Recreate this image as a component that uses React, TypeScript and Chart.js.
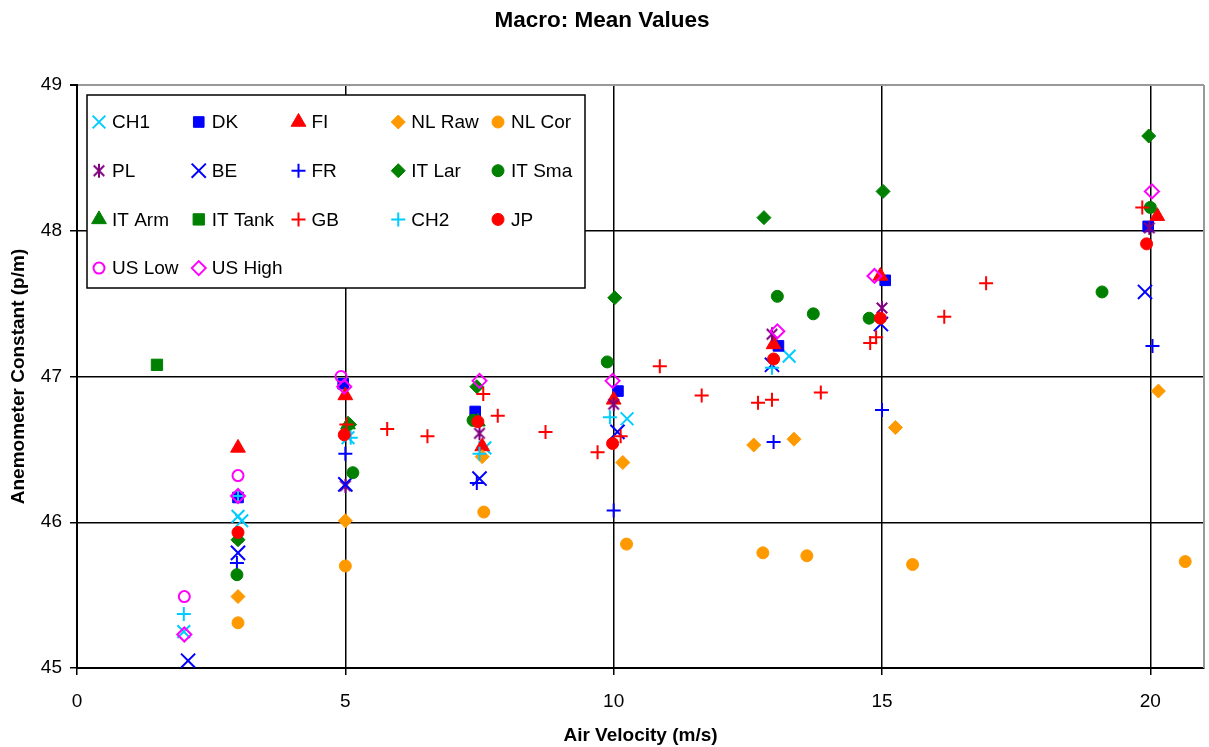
import React, { useEffect, useRef } from 'react';
import { Chart, registerables } from 'chart.js';
import { drawPoint } from 'chart.js/helpers';

Chart.register(...registerables);

// ---------- data ----------
const TITLE = 'Macro: Mean Values';
const X_TITLE = 'Air Velocity (m/s)';
const Y_TITLE = 'Anemometer Constant (p/m)';
const X_TICKS = [0, 5, 10, 15, 20];
const Y_TICKS = [45, 46, 47, 48, 49];

const SERIES_NAMES = [
  'CH1', 'DK', 'FI', 'NL Raw', 'NL Cor',
  'PL', 'BE', 'FR', 'IT Lar', 'IT Sma',
  'IT Arm', 'IT Tank', 'GB', 'CH2', 'JP',
  'US Low', 'US High',
];

type P = [number, number];
const CH1: P[] = [[1.99, 45.25], [3.0, 46.04], [3.07, 46.01], [5.05, 46.58], [7.6, 46.51], [10.25, 46.71], [13.27, 47.14]];
const DK: P[] = [[3.0, 46.17], [4.96, 46.95], [7.42, 46.76], [10.08, 46.9], [13.07, 47.21], [15.06, 47.66], [19.96, 48.03]];
const FI: P[] = [[3.0, 46.51], [5.0, 46.87], [7.55, 46.52], [10.0, 46.84], [12.98, 47.22], [14.97, 47.69], [20.13, 48.1]];
const NL_RAW: P[] = [[3.0, 45.49], [5.0, 46.01], [7.55, 46.45], [10.17, 46.41], [12.61, 46.53], [13.36, 46.57], [15.25, 46.65], [20.15, 46.9]];
const NL_COR: P[] = [[3.0, 45.31], [5.0, 45.7], [7.58, 46.07], [10.24, 45.85], [12.78, 45.79], [13.6, 45.77], [15.57, 45.71], [20.65, 45.73]];
const PL: P[] = [[3.0, 45.9], [5.0, 46.25], [7.5, 46.61], [10.0, 46.81], [12.95, 47.29], [15.0, 47.47], [19.98, 48.02]];
const BE: P[] = [[2.07, 45.05], [3.0, 45.79], [5.0, 46.26], [7.5, 46.3], [10.07, 46.62], [12.95, 47.08], [14.98, 47.36], [19.9, 47.58]];
const FR: P[] = [[2.98, 45.72], [5.0, 46.47], [7.45, 46.27], [10.0, 46.08], [12.98, 46.55], [15.0, 46.77], [20.04, 47.21]];
const IT_LAR: P[] = [[3.0, 45.88], [5.08, 46.67], [7.45, 46.93], [10.02, 47.54], [12.8, 48.09], [15.02, 48.27], [19.97, 48.65]];
const IT_SMA: P[] = [[2.98, 45.64], [5.14, 46.34], [7.38, 46.7], [9.88, 47.1], [13.05, 47.55], [13.72, 47.43], [14.76, 47.4], [19.1, 47.58], [20.0, 48.16]];
const IT_ARM: P[] = [[5.05, 46.67], [7.47, 46.69]];
const IT_TANK: P[] = [[1.49, 47.08]];
const GB: P[] = [[5.02, 46.67], [5.78, 46.64], [6.53, 46.59], [7.57, 46.88], [7.84, 46.73], [8.73, 46.62], [9.7, 46.48], [10.13, 46.59], [10.86, 47.07], [11.64, 46.87], [12.69, 46.82], [12.95, 46.84], [13.86, 46.89], [14.78, 47.23], [14.89, 47.27], [16.16, 47.41], [16.94, 47.64], [19.85, 48.16]];
const CH2: P[] = [[1.99, 45.37], [3.0, 46.18], [5.1, 46.58], [7.5, 46.47], [9.93, 46.72], [12.95, 47.06]];
const JP: P[] = [[3.0, 45.93], [4.98, 46.6], [7.47, 46.69], [9.98, 46.54], [12.98, 47.12], [14.97, 47.4], [19.93, 47.91]];
const US_LOW: P[] = [[2.0, 45.49], [3.0, 46.32], [4.92, 47.0]];
const US_HIGH: P[] = [[2.0, 45.23], [3.0, 46.18], [4.98, 46.93], [7.5, 46.97], [9.98, 46.97], [13.05, 47.31], [14.86, 47.69], [20.03, 48.27]];

const SERIES_DATA: P[][] = [
  CH1, DK, FI, NL_RAW, NL_COR,
  PL, BE, FR, IT_LAR, IT_SMA,
  IT_ARM, IT_TANK, GB, CH2, JP,
  US_LOW, US_HIGH,
];

// ---------- styles ----------
const CYAN = '#00CCFF';
const BLUE = '#0000FF';
const RED = '#FF0000';
const ORANGE = '#FF9900';
const PURPLE = '#800080';
const GREEN = '#008000';
const MAGENTA = '#FF00FF';
const FONT = '"Liberation Sans", Arial, Helvetica, sans-serif';

type Style = { style: any; r: number; color: string; fill: string; bw: number };

function makeAsterisk(color: string, r: number) {
  const s = Math.ceil(r * 2 + 4);
  const c = document.createElement('canvas');
  c.width = s;
  c.height = s;
  const g = c.getContext('2d')!;
  g.strokeStyle = color;
  g.lineWidth = 2;
  const m = s / 2;
  const d = r * 0.75;
  g.beginPath();
  g.moveTo(m - d, m - d); g.lineTo(m + d, m + d);
  g.moveTo(m + d, m - d); g.lineTo(m - d, m + d);
  g.moveTo(m, m - r); g.lineTo(m, m + r);
  g.stroke();
  return c;
}

function buildStyles(): Style[] {
  const none = 'rgba(0,0,0,0)';
  return [
    { style: 'crossRot', r: 9, color: CYAN, fill: CYAN, bw: 2 },
    { style: 'rect', r: 7.5, color: BLUE, fill: BLUE, bw: 1 },
    { style: 'triangle', r: 8.5, color: RED, fill: RED, bw: 1 },
    { style: 'rectRot', r: 7, color: ORANGE, fill: ORANGE, bw: 1 },
    { style: 'circle', r: 6, color: ORANGE, fill: ORANGE, bw: 1 },
    { style: makeAsterisk(PURPLE, 7), r: 7, color: PURPLE, fill: PURPLE, bw: 2 },
    { style: 'crossRot', r: 10, color: BLUE, fill: BLUE, bw: 2 },
    { style: 'cross', r: 7, color: BLUE, fill: BLUE, bw: 2 },
    { style: 'rectRot', r: 7, color: GREEN, fill: GREEN, bw: 1 },
    { style: 'circle', r: 6, color: GREEN, fill: GREEN, bw: 1 },
    { style: 'triangle', r: 8.5, color: GREEN, fill: GREEN, bw: 1 },
    { style: 'rect', r: 8, color: GREEN, fill: GREEN, bw: 1 },
    { style: 'cross', r: 7, color: RED, fill: RED, bw: 2 },
    { style: 'cross', r: 7, color: CYAN, fill: CYAN, bw: 2 },
    { style: 'circle', r: 6, color: RED, fill: RED, bw: 1 },
    { style: 'circle', r: 5.5, color: MAGENTA, fill: none, bw: 2 },
    { style: 'rectRot', r: 7, color: MAGENTA, fill: none, bw: 2 },
  ];
}

const boxLegend = {
  id: 'boxLegend',
  afterDatasetsDraw(chart: any) {
    const { ctx, chartArea } = chart;
    const left = chartArea.left + 10;
    const top = chartArea.top + 10;
    const w = 498;
    const h = 193;
    ctx.save();
    ctx.fillStyle = '#ffffff';
    ctx.fillRect(left, top, w, h);
    ctx.lineWidth = 1.5;
    ctx.strokeStyle = '#000000';
    ctx.strokeRect(left, top, w, h);
    chart.data.datasets.forEach((ds: any, i: number) => {
      const col = i % 5;
      const row = Math.floor(i / 5);
      const mx = left + 12 + col * 99.75;
      const my = top + 27 + row * 48.7;
      ctx.fillStyle = ds.backgroundColor;
      ctx.strokeStyle = ds.borderColor;
      ctx.lineWidth = ds.pointBorderWidth;
      drawPoint(ctx, { pointStyle: ds.pointStyle, radius: ds.pointRadius, rotation: 0, borderWidth: ds.pointBorderWidth } as any, mx, my);
      ctx.fillStyle = '#000000';
      ctx.font = `19px ${FONT}`;
      ctx.textBaseline = 'middle';
      ctx.textAlign = 'left';
      ctx.fillText(ds.label, mx + 13, my + 1);
    });
    // right border of plot area
    ctx.strokeStyle = '#999999';
    ctx.lineWidth = 2;
    ctx.beginPath();
    ctx.moveTo(chartArea.right, chartArea.top);
    ctx.lineTo(chartArea.right, chartArea.bottom);
    ctx.stroke();
    ctx.restore();
  },
};

export default function App() {
  const ref = useRef<HTMLCanvasElement | null>(null);

  useEffect(() => {
    if (!ref.current) return;
    const styles = buildStyles();
    const datasets = SERIES_NAMES.map((name, i) => ({
      label: name,
      data: SERIES_DATA[i].map(([x, y]) => ({ x, y })),
      pointStyle: styles[i].style,
      pointRadius: styles[i].r,
      pointHoverRadius: styles[i].r,
      backgroundColor: styles[i].fill,
      borderColor: styles[i].color,
      pointBorderWidth: styles[i].bw,
      borderWidth: styles[i].bw,
      showLine: false,
      order: 100 - i,
    }));

    const chart = new Chart(ref.current, {
      type: 'scatter',
      data: { datasets },
      plugins: [boxLegend],
      options: {
        responsive: false,
        animation: false,
        events: [],
        color: '#000',
        layout: { autoPadding: false, padding: { left: 0, right: 5, top: 0, bottom: 0 } },
        plugins: {
          legend: { display: false },
          tooltip: { enabled: false },
          title: {
            display: true,
            text: TITLE,
            color: '#000',
            font: { family: FONT, size: 22.5, weight: 'bold', lineHeight: 1.2 },
            padding: { top: 7, bottom: 51 },
          },
        },
        scales: {
          x: {
            type: 'linear',
            min: 0,
            max: 21,
            afterFit: (s: any) => { s.height = 79; },
            afterBuildTicks: (s: any) => { s.ticks = X_TICKS.map((v) => ({ value: v })); },
            ticks: {
              color: '#000',
              font: { family: FONT, size: 19 },
              padding: 15,
              maxRotation: 0,
            },
            grid: { color: '#000', lineWidth: 1.5, tickLength: 7, tickColor: '#000' },
            border: { display: true, color: '#000', width: 2 },
            title: {
              display: true,
              text: X_TITLE,
              color: '#000',
              font: { family: FONT, size: 19, weight: 'bold' },
              padding: { top: 0, bottom: 0 },
            },
          },
          y: {
            type: 'linear',
            min: 45,
            max: 49,
            afterFit: (s: any) => { s.width = 77; },
            afterBuildTicks: (s: any) => { s.ticks = Y_TICKS.map((v) => ({ value: v })); },
            ticks: {
              color: '#000',
              font: { family: FONT, size: 19 },
              padding: 8,
            },
            grid: {
              color: (c: any) => (c.tick && c.tick.value === 49 ? '#999999' : '#000000'),
              lineWidth: (c: any) => (c.tick && c.tick.value === 49 ? 2 : 1.5),
              tickLength: 7,
              tickColor: '#000',
            },
            border: { display: true, color: '#000', width: 2 },
            title: {
              display: true,
              text: Y_TITLE,
              color: '#000',
              font: { family: FONT, size: 19, weight: 'bold' },
              padding: { top: 7, bottom: 0 },
            },
          },
        },
      } as any,
    });
    return () => chart.destroy();
  }, []);

  return (
    <div style={{ position: 'fixed', left: 0, top: 0, width: 1209, height: 747, background: '#fff' }}>
      <canvas ref={ref} width={1209} height={747} style={{ display: 'block' }} />
    </div>
  );
}
